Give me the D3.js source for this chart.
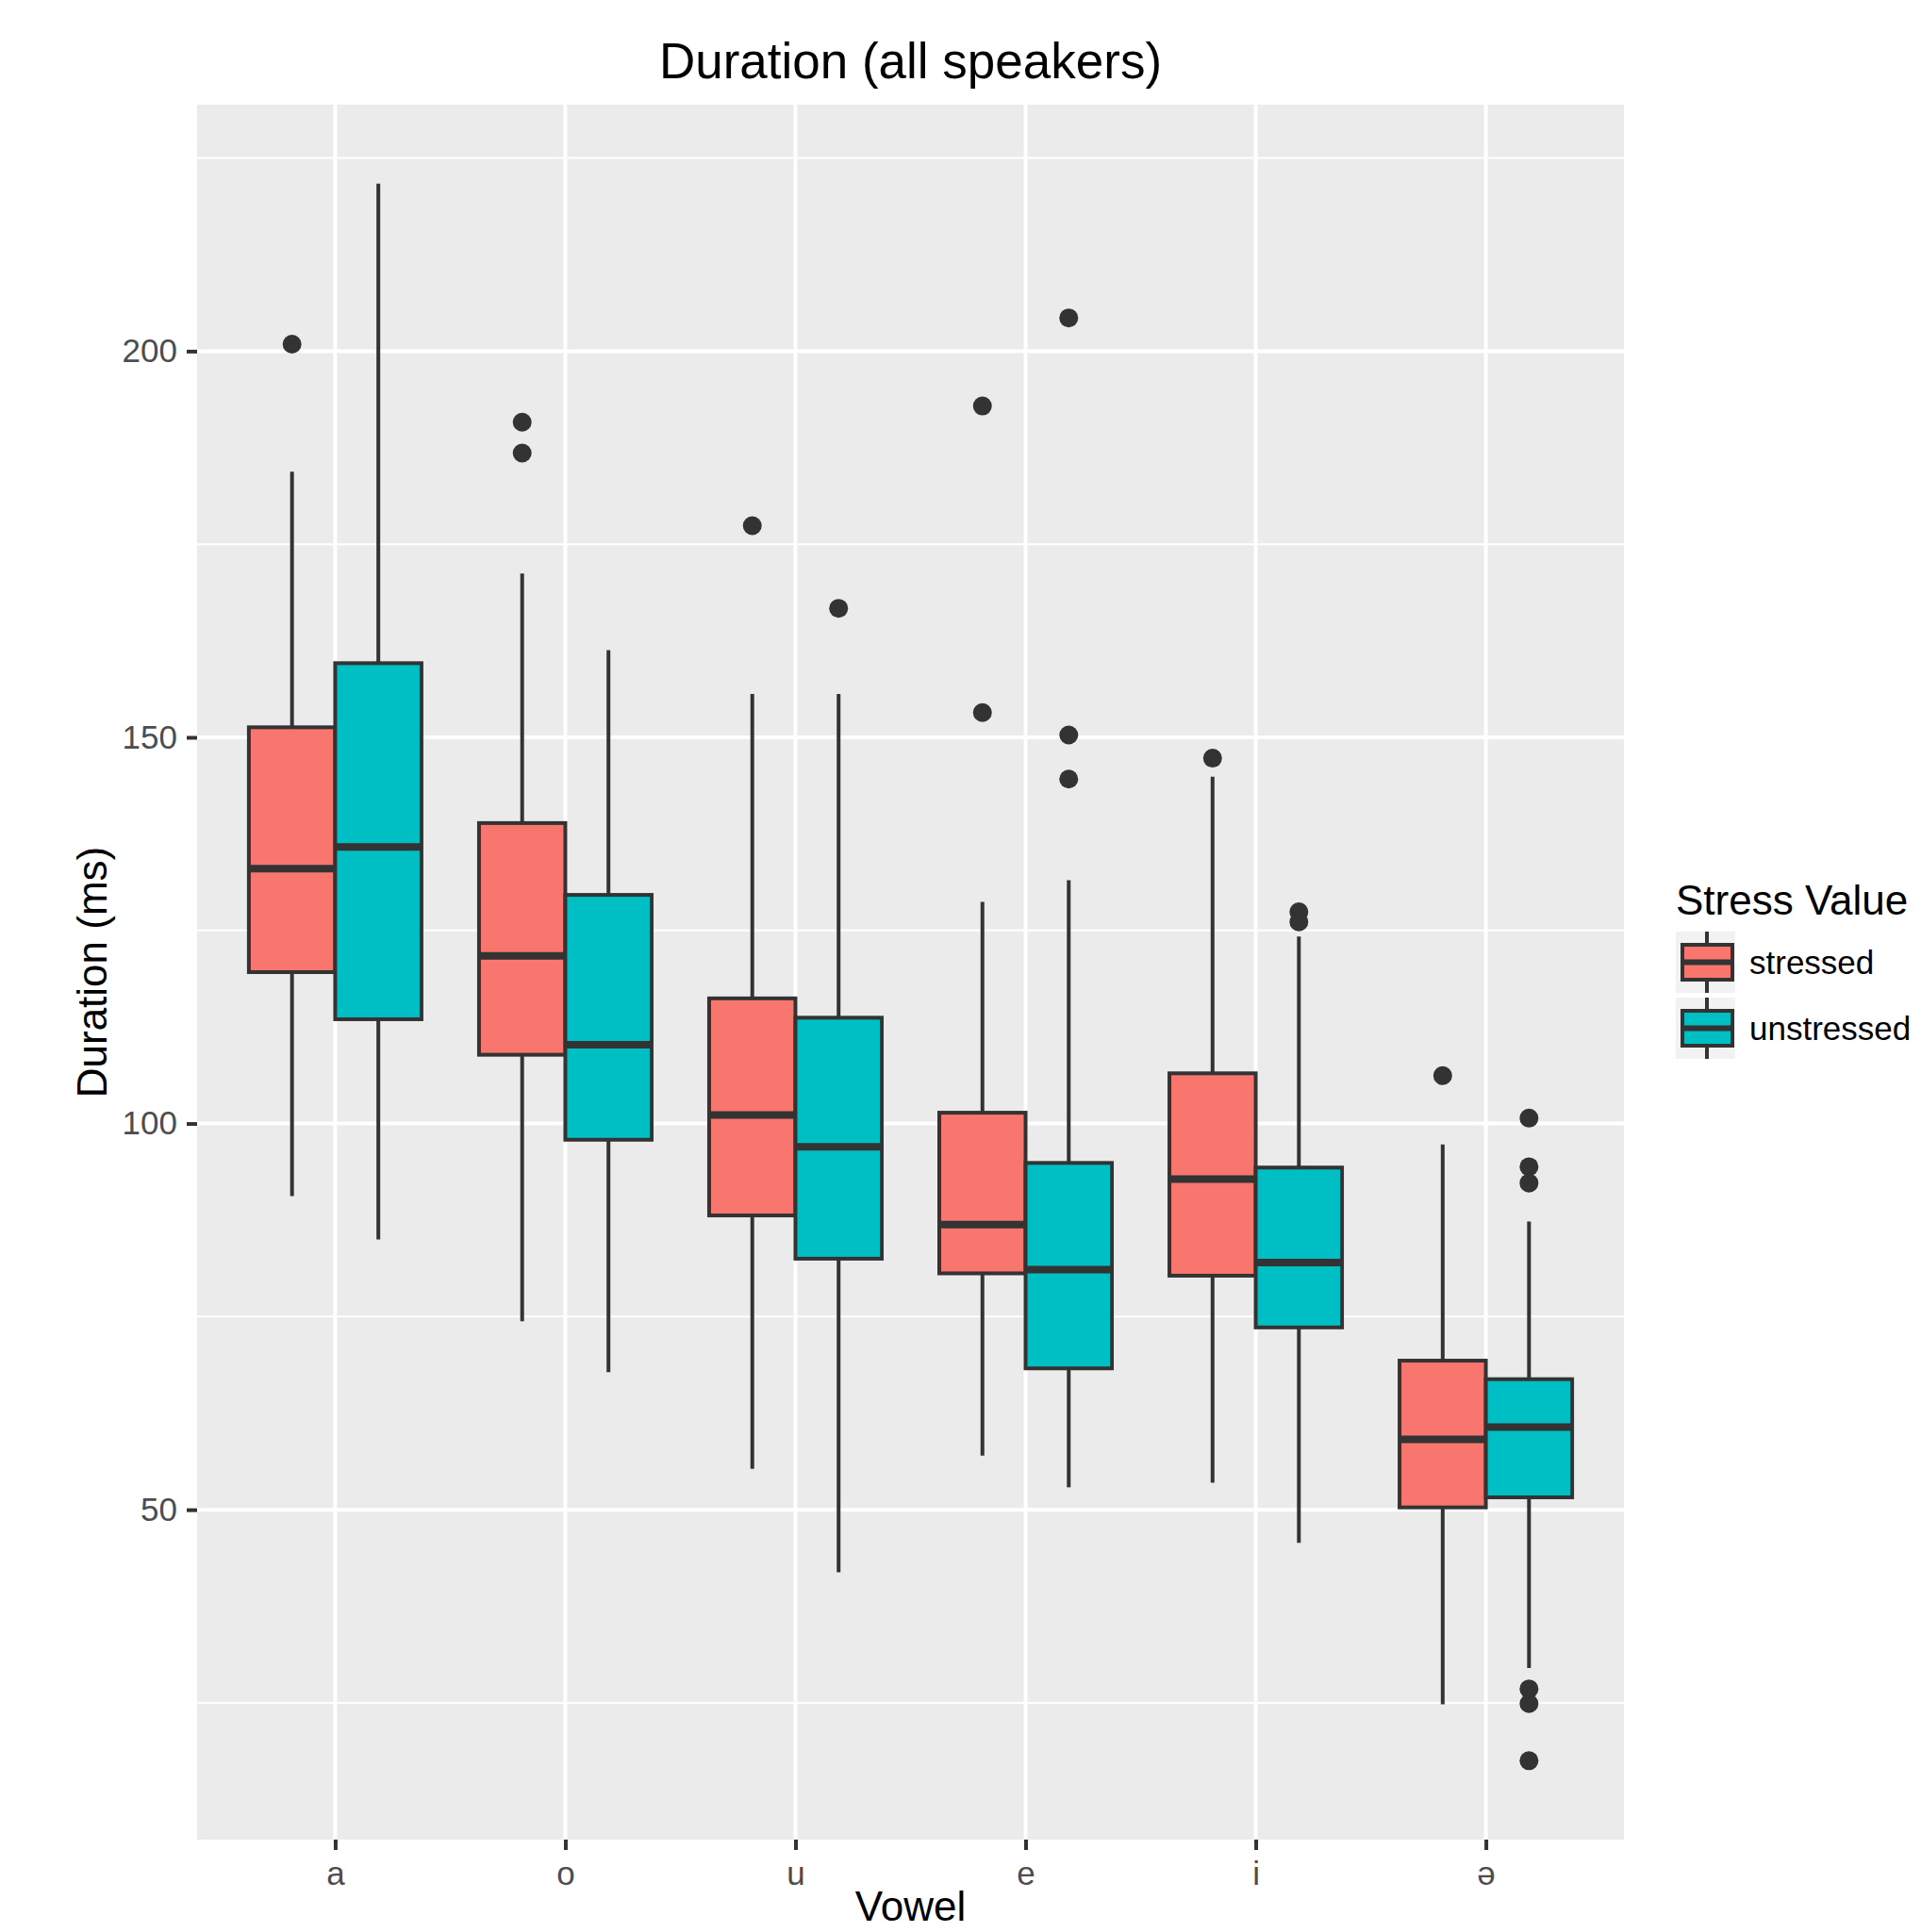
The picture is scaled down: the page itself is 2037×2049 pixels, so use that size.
<!DOCTYPE html>
<html>
<head>
<meta charset="utf-8">
<script src="https://cdn.jsdelivr.net/npm/d3@7"></script>
<style>
  body { margin: 0; background: #fff; }
  svg text { font-family: "Liberation Sans", Arial, "DejaVu Sans", sans-serif; }
</style>
</head>
<body>
<div id="chart"></div>
<script>
// vowels on the x axis, two stress groups dodged inside each
var vowels = ["a", "o", "u", "e", "i", "ə"];
var groups = ["stressed", "unstressed"];

// five-number summaries per vowel: [lower whisker, Q1, median, Q3, upper whisker]
var stressedStats = [
  [90.6, 119.6, 133.0, 151.3, 184.4],
  [74.4, 108.9, 121.7, 138.9, 171.2],
  [55.3, 88.1, 101.1, 116.2, 155.6],
  [57.0, 80.6, 86.9, 101.4, 128.7],
  [53.5, 80.3, 92.8, 106.5, 144.9],
  [24.8, 50.3, 59.1, 69.3, 97.3]
];
var unstressedStats = [
  [85.0, 113.5, 135.8, 159.6, 221.7],
  [67.8, 97.9, 110.2, 129.6, 161.3],
  [41.9, 82.5, 97.0, 113.7, 155.6],
  [52.9, 68.3, 81.1, 94.9, 131.5],
  [45.7, 73.6, 82.0, 94.3, 124.2],
  [29.5, 51.6, 60.7, 66.9, 87.3]
];

// outliers per vowel
var stressedOutliers = [
  [200.9],
  [190.8, 186.8],
  [177.4],
  [192.9, 153.2],
  [147.3],
  [106.2]
];
var unstressedOutliers = [
  [],
  [],
  [166.7],
  [204.3, 150.3, 144.6],
  [127.4, 126.1],
  [100.7, 94.4, 92.3, 26.8, 24.9, 17.5]
];

var yTicks = [50, 100, 150, 200];
var yMinor = [25, 75, 125, 175, 225];
var colors = {stressed: "#F8766D", unstressed: "#00BFC4"};

(function drawBoxes(){

  var W = 2037, H = 2049;
  var panel = {left: 209, right: 1722, top: 111, bottom: 1951};
  var dark = "#333333";

  var svg = d3.select("#chart")
    .append("svg")
      .attr("width", W)
      .attr("height", H);

  // flatten to one row per box
  var boxes = [];
  vowels.forEach(function(v, i){
    boxes.push({vowel: v, group: "stressed", s: stressedStats[i], out: stressedOutliers[i]});
    boxes.push({vowel: v, group: "unstressed", s: unstressedStats[i], out: unstressedOutliers[i]});
  });

  // y domain like ggplot: data range plus 5% each side
  var all = [];
  boxes.forEach(function(b){ all.push(b.s[0], b.s[4]); all = all.concat(b.out); });
  var ext = d3.extent(all), pad = (ext[1] - ext[0]) * 0.05;

  var y = d3.scaleLinear()
    .domain([ext[0] - pad, ext[1] + pad])
    .range([panel.bottom, panel.top]);

  var x = d3.scalePoint()
    .domain(vowels)
    .range([panel.left, panel.right])
    .padding(0.6);

  var step = x.step();
  var dodge = d3.scaleBand()
    .domain(groups)
    .range([-0.375 * step, 0.375 * step]);

  // panel background
  svg.append("rect")
    .attr("x", panel.left)
    .attr("y", panel.top)
    .attr("width", panel.right - panel.left)
    .attr("height", panel.bottom - panel.top)
    .attr("fill", "#EBEBEB");

  var grid = svg.append("g");
  grid.selectAll(".minor")
    .data(yMinor)
    .enter().append("line")
      .attr("x1", panel.left).attr("x2", panel.right)
      .attr("y1", function(d){ return y(d); })
      .attr("y2", function(d){ return y(d); })
      .attr("stroke", "#fff").attr("stroke-width", 2);
  grid.selectAll(".major")
    .data(yTicks)
    .enter().append("line")
      .attr("x1", panel.left).attr("x2", panel.right)
      .attr("y1", function(d){ return y(d); })
      .attr("y2", function(d){ return y(d); })
      .attr("stroke", "#fff").attr("stroke-width", 4);
  grid.selectAll(".vmajor")
    .data(vowels)
    .enter().append("line")
      .attr("y1", panel.top).attr("y2", panel.bottom)
      .attr("x1", function(d){ return x(d); })
      .attr("x2", function(d){ return x(d); })
      .attr("stroke", "#fff").attr("stroke-width", 4);

  // boxes
  var g = svg.append("g").selectAll("g")
    .data(boxes)
    .enter().append("g");

  function left(d){ return x(d.vowel) + dodge(d.group); }
  function mid(d){ return left(d) + dodge.bandwidth() / 2; }

  g.append("line")
    .attr("x1", mid).attr("x2", mid)
    .attr("y1", function(d){ return y(d.s[4]); })
    .attr("y2", function(d){ return y(d.s[3]); })
    .attr("stroke", dark).attr("stroke-width", 4);
  g.append("line")
    .attr("x1", mid).attr("x2", mid)
    .attr("y1", function(d){ return y(d.s[1]); })
    .attr("y2", function(d){ return y(d.s[0]); })
    .attr("stroke", dark).attr("stroke-width", 4);

  g.append("rect")
    .attr("x", left)
    .attr("y", function(d){ return y(d.s[3]); })
    .attr("width", dodge.bandwidth())
    .attr("height", function(d){ return y(d.s[1]) - y(d.s[3]); })
    .attr("fill", function(d){ return colors[d.group]; })
    .attr("stroke", dark).attr("stroke-width", 4);

  g.append("line")
    .attr("x1", left)
    .attr("x2", function(d){ return left(d) + dodge.bandwidth(); })
    .attr("y1", function(d){ return y(d.s[2]); })
    .attr("y2", function(d){ return y(d.s[2]); })
    .attr("stroke", dark).attr("stroke-width", 8);

  g.selectAll("circle")
    .data(function(d){ return d.out.map(function(v){ return {b: d, v: v}; }); })
    .enter().append("circle")
      .attr("cx", function(o){ return mid(o.b); })
      .attr("cy", function(o){ return y(o.v); })
      .attr("r", 10)
      .attr("fill", dark);

  // axes
  var yAxis = d3.axisLeft(y).tickValues(yTicks).tickSize(11).tickPadding(10);
  var ya = svg.append("g")
    .attr("transform", "translate(" + panel.left + ",0)")
    .call(yAxis);
  var xAxis = d3.axisBottom(x).tickSize(11).tickPadding(12);
  var xa = svg.append("g")
    .attr("transform", "translate(0," + panel.bottom + ")")
    .call(xAxis);

  [ya, xa].forEach(function(a){
    a.select(".domain").remove();
    a.selectAll(".tick line").attr("stroke", dark).attr("stroke-width", 4);
    a.selectAll(".tick text")
      .attr("fill", "#4D4D4D")
      .attr("font-size", "35px")
      .attr("font-family", "Liberation Sans, Arial, DejaVu Sans, sans-serif");
  });

  // titles
  svg.append("text")
    .attr("x", (panel.left + panel.right) / 2)
    .attr("y", 83)
    .attr("text-anchor", "middle")
    .attr("font-size", "53px")
    .text("Duration (all speakers)");

  svg.append("text")
    .attr("x", (panel.left + panel.right) / 2)
    .attr("y", 2037)
    .attr("text-anchor", "middle")
    .attr("font-size", "44px")
    .text("Vowel");

  svg.append("text")
    .attr("transform", "translate(113," + ((panel.top + panel.bottom) / 2) + ")rotate(-90)")
    .attr("text-anchor", "middle")
    .attr("font-size", "44px")
    .text("Duration (ms)");

  // legend
  var lg = svg.append("g").attr("transform", "translate(1777,0)");
  lg.append("text")
    .attr("x", 0).attr("y", 970)
    .attr("font-size", "44px")
    .text("Stress Value");

  var keys = lg.selectAll(".key")
    .data(groups)
    .enter().append("g")
      .attr("transform", function(d, i){ return "translate(0," + (988 + i * 70) + ")"; });

  keys.append("rect")
    .attr("width", 63).attr("height", 65)
    .attr("fill", "#F2F2F2");
  keys.append("line")
    .attr("x1", 33).attr("x2", 33)
    .attr("y1", 0).attr("y2", 65)
    .attr("stroke", dark).attr("stroke-width", 4);
  keys.append("rect")
    .attr("x", 7).attr("y", 14)
    .attr("width", 53).attr("height", 37)
    .attr("fill", function(d){ return colors[d]; })
    .attr("stroke", dark).attr("stroke-width", 4);
  keys.append("line")
    .attr("x1", 7).attr("x2", 60)
    .attr("y1", 32.5).attr("y2", 32.5)
    .attr("stroke", dark).attr("stroke-width", 6);
  keys.append("text")
    .attr("x", 78).attr("y", 45)
    .attr("font-size", "35px")
    .text(function(d){ return d; });

})();
</script>
</body>
</html>
